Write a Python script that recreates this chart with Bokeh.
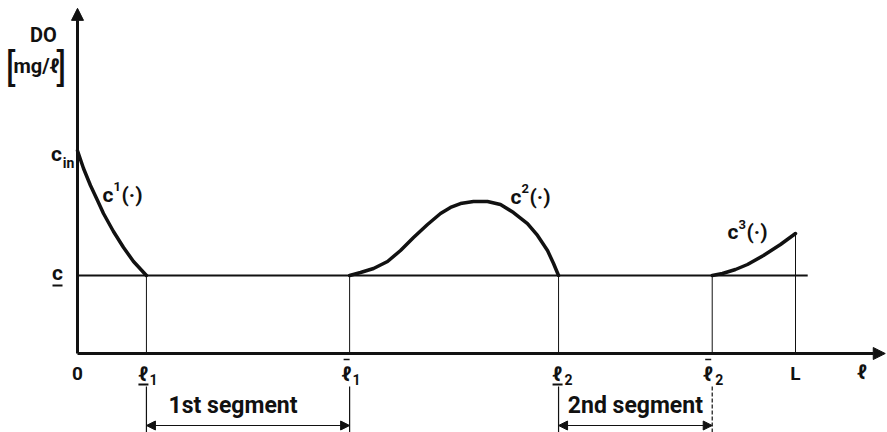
from bokeh.plotting import figure
from bokeh.models import Range1d, Arrow, NormalHead
from bokeh.core.properties import value
from bokeh.embed import file_html
from bokeh.resources import INLINE

# Breakpoints along the river (length units, L = 10)
l1, l1_bar, l2, l2_bar, L = 0.96, 3.79, 6.70, 8.84, 10.0
# DO levels (mg/l)
c_min, c_in = 2.0, 5.2

# DO profile in the first reach (from the inflow down to l1)
c1_x = [0.0, 0.084, 0.181, 0.279, 0.362, 0.501, 0.641, 0.780, 0.96]
c1_y = [5.2, 4.744, 4.308, 3.923, 3.590, 3.128, 2.718, 2.359, 2.0]
# DO profile in the second reach (l1_bar .. l2)
c2_x = [3.79, 3.942, 4.123, 4.318, 4.499, 4.680, 4.875, 5.056, 5.195, 5.334,
        5.515, 5.710, 5.891, 6.072, 6.267, 6.407, 6.546, 6.630, 6.70]
c2_y = [2.0, 2.077, 2.179, 2.359, 2.641, 2.974, 3.308, 3.590, 3.744, 3.846,
        3.897, 3.897, 3.821, 3.615, 3.333, 3.026, 2.641, 2.308, 2.0]
# DO profile in the third reach (l2_bar .. L)
c3_x = [8.84, 8.983, 9.164, 9.331, 9.554, 9.791, 10.0]
c3_y = [2.0, 2.051, 2.154, 2.282, 2.513, 2.795, 3.077]

x_axis_end, y_axis_end, c_line_end = 11.25, 8.85, 10.17

# screen scale: pixels per data unit
XU, YU = 71.8, 39.0
W, H = 887, 432
X0, Y0 = 77, 353  # pixel position of the origin


def dx(px):
    return px / XU


def dy(px):
    return px / YU


FONT = value("Roboto")
INK = "#111111"

p = figure(width=W, height=H, output_backend="svg", toolbar_location=None,
           x_range=Range1d(-X0 / XU, (W - X0) / XU),
           y_range=Range1d(-(H - Y0) / YU, Y0 / YU),
           x_axis_type=None, y_axis_type=None,
           min_border=0, min_border_left=0, min_border_right=0,
           min_border_top=0, min_border_bottom=0,
           outline_line_color=None, background_fill_color="white")
p.grid.visible = False

# axes with arrow heads
p.add_layout(Arrow(end=NormalHead(size=12, fill_color=INK, line_color=INK),
                   x_start=0, y_start=0, x_end=x_axis_end, y_end=0,
                   line_width=3, line_color=INK))
p.add_layout(Arrow(end=NormalHead(size=12, fill_color=INK, line_color=INK),
                   x_start=0, y_start=0, x_end=0, y_end=y_axis_end,
                   line_width=3, line_color=INK))

# lower DO limit
p.line([0, c_line_end], [c_min, c_min], line_width=2.2, line_color=INK)

# thin drop lines from the profile ends to the l axis
p.segment(x0=[l1, l1_bar, l2, l2_bar, L], y0=[c_min, c_min, c_min, c_min, c3_y[-1]],
          x1=[l1, l1_bar, l2, l2_bar, L], y1=[0, 0, 0, 0, 0],
          line_width=1, line_color=INK)

# DO profiles
for xs, ys in ((c1_x, c1_y), (c2_x, c2_y), (c3_x, c3_y)):
    p.line(xs, ys, line_width=3.5, line_color=INK, line_join="round", line_cap="round")

# segment dimension lines below the axis
y_top, y_bot, y_dim = -dy(33), -dy(80), -dy(72)
p.segment(x0=[l1, l1_bar, l2], y0=[y_top] * 3, x1=[l1, l1_bar, l2], y1=[y_bot] * 3,
          line_width=1.2, line_color=INK)
p.segment(x0=[l2_bar], y0=[y_top], x1=[l2_bar], y1=[y_bot],
          line_width=1.2, line_color=INK, line_dash="4 2")
for a, b in ((l1, l1_bar), (l2, l2_bar)):
    p.add_layout(Arrow(start=NormalHead(size=9, fill_color=INK, line_color=INK),
                       end=NormalHead(size=9, fill_color=INK, line_color=INK),
                       x_start=a, y_start=y_dim, x_end=b, y_end=y_dim,
                       line_width=1.2, line_color=INK))


def txt(x, y, s, size=20, align="center", weight="bold"):
    p.text(x=[x], y=[y], text=[s], text_font=FONT, text_font_size=f"{size}px",
           text_align=align, text_baseline="middle", text_color=INK,
           text_font_style=weight)


def profile_label(x, y, k):
    # c^k(.) with a raised index
    txt(x, y, "c", 21, align="left")
    txt(x + dx(11), y + dy(8), k, 13, align="left")
    txt(x + dx(19), y, "(·)", 21, align="left")


# y axis title
txt(-dx(34), y_axis_end - dy(27), "DO", 20)
txt(-dx(41), y_axis_end - dy(58), "mg/ℓ", 20)
txt(-dx(67), y_axis_end - dy(60), "[", 38, weight="normal")
txt(-dx(16), y_axis_end - dy(60), "]", 38, weight="normal")

# y axis levels
txt(-dx(21), c_in - dy(3), "c", 21)
txt(-dx(9), c_in - dy(12), "in", 14)
txt(-dx(20), c_min + dy(3), "c", 21)
p.segment(x0=[-dx(25)], y0=[c_min - dy(10)], x1=[-dx(15)], y1=[c_min - dy(10)],
          line_width=2, line_color=INK)

# l axis tick labels
ty = -dy(20)
txt(0, ty, "0", 19)
txt(l1 - dx(3), ty, "ℓ", 20)
txt(l1 + dx(7), ty - dy(6), "1", 14)
p.segment(x0=[l1 - dx(8)], y0=[ty - dy(11)], x1=[l1 + dx(2)], y1=[ty - dy(11)],
          line_width=2, line_color=INK)
txt(l1_bar - dx(3), ty, "ℓ", 20)
txt(l1_bar + dx(7), ty - dy(6), "1", 14)
p.segment(x0=[l1_bar - dx(6)], y0=[ty + dy(14)], x1=[l1_bar], y1=[ty + dy(14)],
          line_width=1.5, line_color=INK)
txt(l2 - dx(1), ty, "ℓ", 20)
txt(l2 + dx(10), ty - dy(6), "2", 14)
p.segment(x0=[l2 - dx(6)], y0=[ty - dy(11)], x1=[l2 + dx(4)], y1=[ty - dy(11)],
          line_width=2, line_color=INK)
txt(l2_bar - dx(4), ty, "ℓ", 20)
txt(l2_bar + dx(7), ty - dy(6), "2", 14)
p.segment(x0=[l2_bar - dx(7)], y0=[ty + dy(14)], x1=[l2_bar - dx(1)], y1=[ty + dy(14)],
          line_width=1.5, line_color=INK)
txt(L, ty, "L", 19)
txt(x_axis_end - dx(23), ty + dy(2), "ℓ", 20)

# profile labels
profile_label(c1_x[3] + dx(5), c1_y[3] + dy(6), "1")
profile_label(c2_x[13] - dx(3), c2_y[11] + dy(5), "2")
profile_label(c3_x[2] - dx(8), c3_y[-1] + dy(1), "3")

# segment captions
txt((l1 + l1_bar) / 2 - dx(15), -dy(52), "1st segment", 23)
txt((l2 + l2_bar) / 2, -dy(52), "2nd segment", 23)

open("out.html", "w").write(file_html(p, INLINE))
